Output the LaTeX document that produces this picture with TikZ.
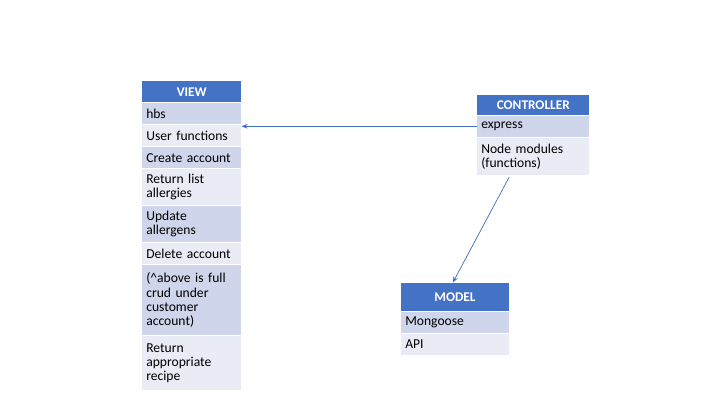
\documentclass[tikz,border=0pt]{standalone}
\usepackage{fontspec}
\setmainfont{Carlito}
\usetikzlibrary{calc,arrows.meta}
\definecolor{hdrblue}{HTML}{4472C4}
\definecolor{rowdark}{HTML}{CFD5EA}
\definecolor{rowlight}{HTML}{E9EBF5}
\tikzset{
  hdr/.style 2 args={anchor=north west, fill=hdrblue, text=white, font=\fontsize{10}{11}\selectfont\bfseries,
    inner sep=0pt, minimum width=#1*0.75pt, minimum height=#2*0.75pt, align=center},
  cell/.style 2 args={anchor=north west, inner xsep=3pt, inner ysep=0pt,
    text width=(#1-8)*0.75pt, minimum height=#2*0.75pt, align=left,
    font=\fontsize{10.2}{10.7}\selectfont},
  dk/.style={fill=rowdark},
  lt/.style={fill=rowlight},
  arr/.style={draw=hdrblue, line width=0.55pt, -{Stealth[length=4.5pt,width=3.6pt]}}
}
\begin{document}
\begin{tikzpicture}[x=0.75pt,y=-0.75pt]
\useasboundingbox (0,0) rectangle (720,405);
% VIEW
\node[hdr={99}{21}] (vh) at (142,81) {VIEW};
\node[cell={99}{21},dk] (v1) at (142,103) {hbs};
\node[cell={99}{21},lt] (v2) at (142,125) {User functions};
\node[cell={99}{21},dk] (v3) at (142,147) {Create account};
\node[cell={99}{36},lt] (v4) at (142,169) {Return list\\allergies};
\node[cell={99}{36},dk] (v5) at (142,206) {Update\\allergens};
\node[cell={99}{21},lt] (v6) at (142,243) {Delete account};
\node[cell={99}{70},dk] (v7) at (142,265) {(\textasciicircum above is full\\crud under\\customer\\account)};
\node[cell={99}{54},lt] (v8) at (142,336) {Return\\appropriate\\recipe};
% CONTROLLER
\node[hdr={112}{20}] (ch) at (477,94.5) {CONTROLLER};
\node[cell={112}{21},dk] (c1) at (477,115.5) {express};
\node[cell={112}{37.5},lt] (c2) at (477,137.5) {Node modules\\(functions)};
% MODEL
\node[hdr={107.5}{28}] (mh) at (401,282.5) {MODEL};
\node[cell={107.5}{21},dk] (m1) at (401,311.5) {Mongoose};
\node[cell={107.5}{21},lt] (m2) at (401,333.5) {API};
% connectors
\draw[arr] (c1.west) -- (c1.west -| v2.east);
\draw[arr] ($(c2.south west)!0.286!(c2.south east)+(0,1.5)$) -- ($(mh.north west)!0.48!(mh.north east)$);
\end{tikzpicture}
\end{document}
